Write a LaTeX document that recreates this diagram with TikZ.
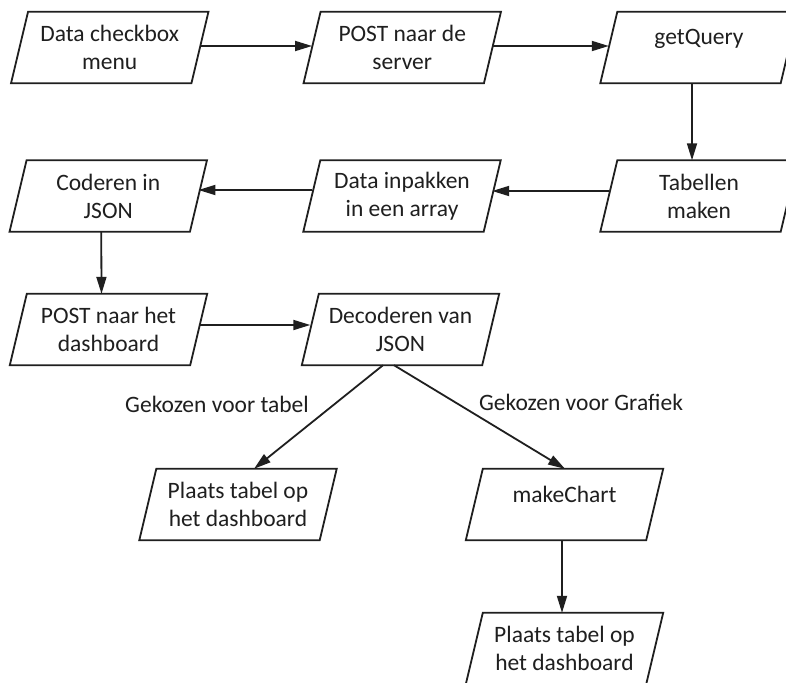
\documentclass[tikz,border=0pt]{standalone}
\usepackage{fontspec}
\setmainfont{Carlito}
\usetikzlibrary{arrows.meta,calc}
\tikzset{
  io/.style={rectangle, minimum width=180pt, minimum height=71pt, inner sep=0pt, align=center,
    font=\fontsize{23.5}{28}\selectfont, text=black!88},
  flow/.style={line width=1.8pt, draw=black!88, -{Triangle[length=17pt,width=10pt]}},
  plain/.style={line width=1.8pt, draw=black!88},
  lbl/.style={font=\fontsize{23.5}{28}\selectfont, text=black!88, inner sep=0pt},
}
\newcommand{\parabox}[1]{\draw[plain, line join=miter] ([xshift=8.5pt]#1.north west) -- ([xshift=8.5pt]#1.north east) -- ([xshift=-8.5pt]#1.south east) -- ([xshift=-8.5pt]#1.south west) -- cycle;}
\newcommand{\oneline}[1]{\smash{\raisebox{2.5pt}{#1}}}
\begin{document}
\begin{tikzpicture}[x=1pt,y=-1pt]
\useasboundingbox (0,0) rectangle (786,682);
\clip (0,0) rectangle (786,682);
\fill[white] (0,0) rectangle (786,682);
% row 1
\node[io] (dcm) at (109.75,47.5) {Data checkbox\\menu};
\node[io] (pns) at (402.25,47.5) {POST naar de\\server};
\node[io] (gq)  at (699,47.5) {\oneline{getQuery}};
% row 2
\node[io] (cij) at (108.25,196) {Coderen in\\JSON};
\node[io] (dia) at (402,196) {Data inpakken\\in een array};
\node[io] (tm)  at (699,196) {Tabellen\\maken};
% row 3
\node[io] (pnd) at (108.5,329.5) {POST naar het\\dashboard};
\node[io] (dvj) at (400.5,329.5) {Decoderen van\\JSON};
% row 4
\node[io] (ptd1) at (238,504.5) {Plaats tabel op\\het dashboard};
\node[io] (mc)   at (564.5,504.5) {\oneline{makeChart}};
% row 5
\node[io] (ptd2) at (564.5,648.5) {Plaats tabel op\\het dashboard};
\foreach \n in {dcm,pns,gq,cij,dia,tm,pnd,dvj,ptd1,mc,ptd2} {\parabox{\n}}
% connectors
\draw[flow] ([yshift=1.5pt]dcm.east) -- ([yshift=1.5pt]pns.west);
\draw[flow] ([yshift=1.5pt]pns.east) -- ([yshift=1.5pt]gq.west);
\draw[flow] ([xshift=-7pt]gq.south) -- ([xshift=-7pt]tm.north);
\draw[flow] ([yshift=5pt]tm.west) -- ([yshift=5pt]dia.east);
\draw[flow] ([yshift=6pt]dia.west) -- ([yshift=6pt]cij.east);
\draw[flow] ([xshift=-7pt]cij.south) -- ([xshift=-7pt]pnd.north);
\draw[flow] ([yshift=4.5pt]pnd.east) -- ([yshift=4.5pt]dvj.west);
\draw[flow] ([xshift=-17.5pt]dvj.south) -- ([xshift=16pt]ptd1.north);
\draw[flow] ([xshift=-6.5pt]dvj.south) -- ([xshift=0.5pt]mc.north);
\draw[flow] ([xshift=-2.5pt]mc.south) -- ([xshift=-2.5pt]ptd2.north);
% labels
\node[lbl] (lt) at (217,404) {Gekozen voor tabel};
\node[lbl] (lg) at (581,402) {Gekozen voor Grafiek};
\end{tikzpicture}
\end{document}
